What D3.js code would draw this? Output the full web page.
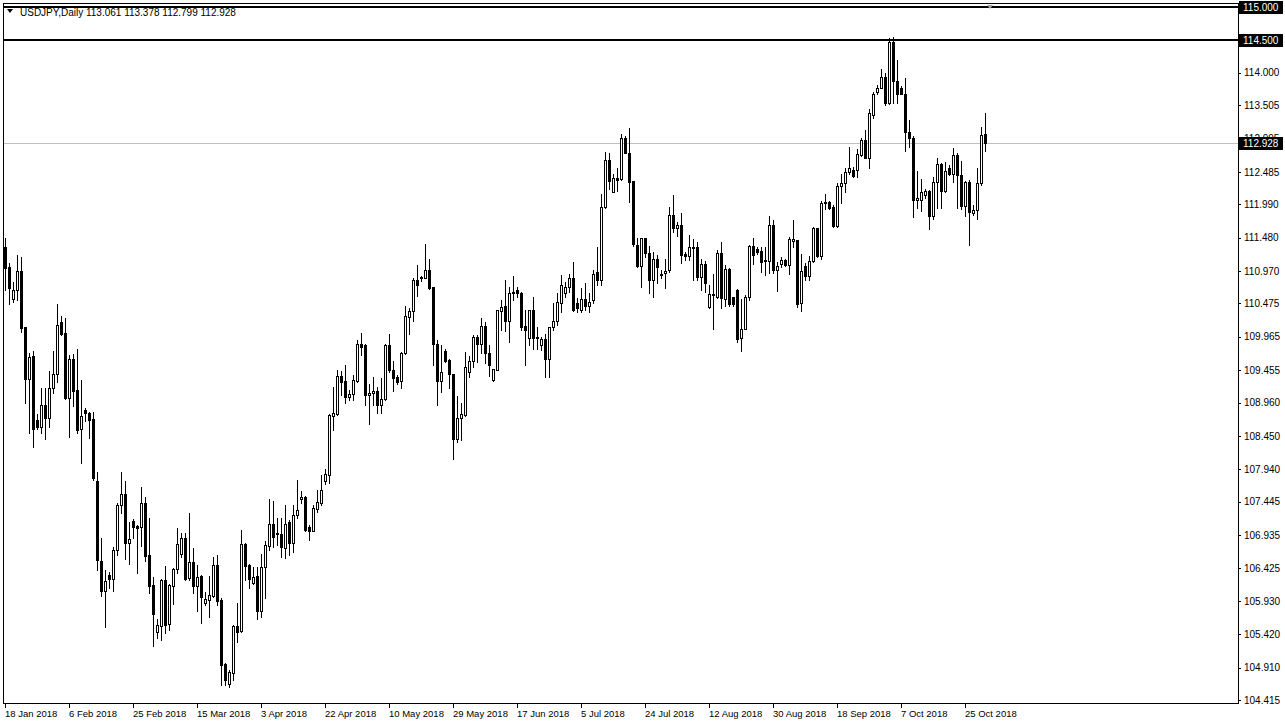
<!DOCTYPE html>
<html><head><meta charset="utf-8">
<script src="https://cdn.jsdelivr.net/npm/d3@7"></script>
<style>
html,body{margin:0;padding:0;background:#fff;overflow:hidden;}
svg{display:block;}
text{font-family:"Liberation Sans",Arial,sans-serif;}
</style></head><body>
<svg id="c" width="1285" height="726"></svg>
<script>
const symbolTitle = "USDJPY,Daily";
const startDate = "2018-01-18";
const opens = [111.34,111.03,110.55,110.68,110.97,110.11,109.32,109.67,108.69,108.59,108.93,108.73,109.18,109.39,110.19,110.02,109.03,109.62,109.15,108.56,108.85,108.80,108.71,107.76,106.54,106.08,106.32,106.26,106.71,107.39,107.57,106.82,107.15,107.08,107.06,107.42,106.63,106.17,105.45,105.55,106.25,105.57,106.16,106.41,106.64,106.89,106.28,106.52,106.15,106.31,105.89,105.95,106.01,106.48,105.94,104.97,104.66,104.82,105.55,105.47,106.80,106.48,106.20,106.31,105.78,106.44,106.77,107.10,106.95,106.95,106.74,107.14,106.82,107.24,107.49,107.51,107.06,107.00,107.34,107.43,107.76,107.86,108.76,108.79,109.37,109.29,109.05,109.09,109.29,109.86,109.84,109.07,109.10,109.14,108.93,109.02,109.84,109.46,109.35,109.29,109.71,110.27,110.36,110.83,110.87,110.87,110.99,110.72,109.86,109.29,109.75,109.61,109.39,108.40,108.72,108.77,109.43,109.60,109.96,109.86,110.13,109.71,109.30,109.46,110.36,110.43,110.21,110.65,110.68,110.64,110.13,109.94,110.37,109.96,109.84,109.93,109.62,110.11,110.20,110.48,110.63,110.72,110.86,110.48,110.37,110.55,110.43,110.53,110.96,110.83,111.95,112.66,112.18,112.39,112.37,113.00,112.78,112.34,111.37,111.04,111.47,111.25,110.84,111.15,110.93,110.94,110.99,111.82,111.62,111.68,111.23,111.20,111.34,111.34,110.88,111.08,110.42,110.62,110.58,111.24,110.55,111.00,110.57,110.68,109.94,110.09,110.57,111.35,111.30,111.28,111.12,111.12,111.67,110.99,111.08,111.14,111.06,111.43,111.44,110.48,111.05,110.90,111.12,111.62,111.20,112.01,112.03,111.95,111.66,112.27,112.31,112.48,112.51,112.51,112.75,112.97,112.69,113.36,113.70,113.77,113.93,113.54,114.47,113.87,113.77,113.68,113.10,113.00,112.06,112.06,112.13,112.19,111.81,112.33,112.60,112.19,112.55,112.45,112.74,112.44,111.96,112.33,111.85,111.90,112.31,113.061];
const highs = [111.48,111.09,110.80,111.21,111.19,110.12,109.72,109.75,108.78,109.19,109.19,109.44,109.75,110.46,110.29,110.25,109.69,109.70,109.78,109.30,108.88,108.81,108.82,107.90,106.89,106.40,106.37,106.75,107.42,107.90,107.76,107.14,107.18,107.09,107.67,107.52,107.20,106.30,105.66,106.27,106.46,106.19,106.43,107.04,106.97,106.97,107.28,106.73,106.48,106.33,106.06,106.31,106.60,106.63,105.97,104.98,104.87,105.56,105.90,107.01,106.81,106.50,106.44,106.44,106.65,106.84,107.48,107.45,107.19,107.19,107.39,107.16,107.39,107.78,107.61,107.53,107.09,107.39,107.62,107.86,107.95,108.78,109.20,109.46,109.44,109.53,109.15,109.38,109.92,110.02,109.85,109.25,109.35,109.20,109.33,109.85,110.00,109.59,109.38,109.74,110.44,110.40,110.86,111.06,110.90,111.38,111.16,110.73,109.92,109.84,109.78,109.62,109.40,109.06,108.95,109.74,109.67,109.99,109.99,110.25,110.19,109.84,109.48,110.38,110.53,110.83,110.73,110.89,110.72,110.65,110.37,110.38,110.58,110.12,109.96,110.00,110.12,110.48,110.63,110.91,110.80,110.93,111.11,110.56,110.71,110.79,110.63,110.99,111.34,112.15,112.79,112.78,112.46,112.54,113.06,113.03,113.15,112.35,111.48,111.48,111.48,111.35,111.26,111.22,110.99,111.16,111.95,112.13,111.72,111.85,111.26,111.52,111.46,111.41,111.16,111.12,110.76,110.92,111.29,111.41,111.06,111.01,110.58,110.69,110.54,110.60,111.36,111.47,111.34,111.34,111.33,111.81,111.75,111.11,111.18,111.16,111.49,111.75,111.45,111.23,111.10,111.20,111.65,111.63,112.04,112.15,112.04,111.98,112.32,112.46,112.55,112.87,112.56,112.83,113.00,113.12,113.45,113.70,113.82,114.06,113.99,114.53,114.55,114.19,113.80,113.92,113.28,113.03,112.50,112.38,112.22,112.21,112.41,112.70,112.62,112.64,112.59,112.85,112.78,112.65,112.34,112.36,111.98,112.54,113.17,113.378];
const lows = [110.68,110.47,110.50,110.53,110.04,108.96,108.49,108.28,108.56,108.49,108.40,108.58,109.10,109.27,109.99,109.01,108.44,108.90,108.49,108.03,108.68,108.42,107.78,106.40,106.00,105.53,106.13,106.08,106.63,107.28,106.57,106.49,106.89,106.36,106.77,106.54,106.05,105.24,105.37,105.33,105.44,105.49,105.88,106.35,106.60,106.25,106.25,106.05,105.78,105.59,105.87,105.68,105.99,105.87,104.64,104.64,104.62,104.72,105.30,105.46,106.25,106.12,106.19,105.65,105.69,105.98,106.71,106.76,106.78,106.60,106.59,106.63,106.68,107.19,107.42,107.00,106.86,106.99,107.29,107.39,107.71,107.73,108.54,108.77,109.07,108.96,109.00,109.00,109.28,109.69,108.92,108.64,108.92,108.80,108.80,109.00,109.43,109.14,109.24,109.19,109.70,110.01,110.21,110.59,110.82,110.86,110.69,109.54,108.92,109.12,109.58,109.19,108.10,108.36,108.39,108.76,109.35,109.51,109.58,109.71,109.56,109.37,109.29,109.45,110.07,110.06,109.89,110.53,110.58,110.07,109.53,109.84,109.78,109.78,109.77,109.35,109.35,110.07,110.14,110.35,110.58,110.65,110.36,110.34,110.34,110.37,110.34,110.48,110.76,110.76,111.93,112.23,112.17,112.20,112.36,112.77,112.03,111.35,111.03,110.73,111.19,110.64,110.58,110.78,110.87,110.71,110.96,111.56,111.50,111.09,111.14,111.14,110.83,110.83,110.68,110.65,110.41,110.08,110.56,110.41,110.44,110.44,110.43,109.89,109.75,110.08,110.53,111.08,111.23,110.95,110.91,110.94,110.94,110.67,111.03,111.04,110.92,111.34,110.42,110.36,110.83,110.83,111.11,111.18,111.16,111.91,111.92,111.65,111.65,112.01,112.18,112.46,112.40,112.41,112.73,112.69,112.54,113.31,113.68,113.76,113.51,113.52,113.53,113.53,113.67,112.80,112.87,111.80,111.94,111.88,112.08,111.61,111.77,111.93,111.93,112.18,112.44,112.33,111.93,111.91,111.81,111.37,111.82,111.76,112.28,112.799];
const closes = [111.02,110.71,110.68,110.97,110.10,109.32,109.65,108.56,108.59,108.93,108.73,109.18,109.39,110.14,110.01,109.03,109.62,109.14,108.54,108.76,108.80,108.69,107.81,106.55,106.08,106.23,106.26,106.71,107.39,107.57,106.82,106.87,107.06,107.05,107.42,106.62,106.16,105.73,105.56,106.25,105.56,106.17,106.42,106.80,106.89,106.27,106.52,106.15,106.30,105.99,105.96,106.02,106.48,105.93,104.95,104.72,104.84,105.55,105.46,106.80,106.46,106.26,106.30,105.78,106.44,106.78,107.10,106.91,106.97,106.75,107.11,106.82,107.24,107.32,107.51,107.02,107.00,107.35,107.44,107.62,107.87,108.77,108.80,109.37,109.28,109.04,109.09,109.30,109.86,109.81,109.07,109.10,109.14,108.93,109.02,109.84,109.45,109.34,109.28,109.72,110.28,110.36,110.84,110.76,110.88,110.99,110.71,109.86,109.29,109.42,109.59,109.39,108.40,108.73,108.79,109.50,109.60,109.96,109.86,110.13,109.71,109.53,109.47,110.37,110.42,110.21,110.63,110.63,110.63,110.11,110.07,110.37,109.94,109.94,109.93,109.62,110.11,110.21,110.49,110.76,110.72,110.86,110.38,110.40,110.55,110.43,110.50,110.93,110.83,111.95,112.66,112.35,112.39,112.36,113.00,112.78,112.33,111.38,111.04,111.47,111.25,110.84,111.15,111.03,110.91,110.97,111.82,111.62,111.68,111.22,111.20,111.33,111.32,110.88,111.08,110.79,110.62,110.60,111.24,110.56,111.00,110.46,110.46,109.93,110.09,110.57,111.35,111.21,111.26,111.11,111.14,111.67,110.99,111.04,111.14,111.06,111.46,111.46,110.46,110.97,110.90,111.12,111.63,111.20,112.01,112.03,111.93,111.66,112.27,112.31,112.48,112.54,112.42,112.76,112.97,112.70,113.38,113.67,113.77,113.93,113.54,114.47,113.87,113.68,113.68,113.10,113.00,112.06,112.08,112.17,112.19,111.81,112.33,112.60,112.19,112.50,112.45,112.74,112.44,111.96,112.33,111.87,111.90,112.31,113.05,112.928];
const yTickValues = [114.000,113.505,112.995,112.485,111.990,111.480,110.970,110.475,109.965,109.455,108.960,108.450,107.940,107.445,106.935,106.425,105.930,105.420,104.910,104.415];
const xTickLabels = ["18 Jan 2018","6 Feb 2018","25 Feb 2018","15 Mar 2018","3 Apr 2018","22 Apr 2018","10 May 2018","29 May 2018","17 Jun 2018","5 Jul 2018","24 Jul 2018","12 Aug 2018","30 Aug 2018","18 Sep 2018","7 Oct 2018","25 Oct 2018"];
const levelLines = [115.000, 114.500];
const bidPrice = 112.928;

// trading calendar (Sunday-Friday sessions)
const n = closes.length;
const dates = [];
{ let d = new Date(startDate + "T00:00:00");
  while (dates.length < n) { if (d.getDay() !== 6) dates.push(new Date(d)); d.setDate(d.getDate() + 1); } }
const fmtDate = d3.timeFormat("%-d %b %Y");
const bars = d3.range(n).map(i => ({i, o: opens[i], h: highs[i], l: lows[i], c: closes[i], d: dates[i]}));

const svg = d3.select("#c");
const x = d3.scaleLinear().domain([0, n - 1]).range([5, 5 + 4 * (n - 1)]);
const y = d3.scaleLinear().domain([104.415, 114.5]).range([700, 40]);

svg.append("defs").append("clipPath").attr("id", "clip")
  .append("rect").attr("x", 4).attr("y", 4).attr("width", 1234).attr("height", 699);

// frame
svg.append("rect").attr("x", 3.5).attr("y", 3.5).attr("width", 1235).attr("height", 700)
  .attr("fill", "none").attr("stroke", "#000").attr("stroke-width", 1);

const g = svg.append("g").attr("clip-path", "url(#clip)");

// bid line
const bidY = Math.round(y(bidPrice)) + 0.5;
g.append("line").attr("x1", 4).attr("x2", 1238).attr("y1", bidY).attr("y2", bidY)
  .attr("stroke", "#c0c0c0").attr("stroke-width", 1);

// level lines
g.selectAll(".lvl").data(levelLines).join("rect").attr("class", "lvl")
  .attr("x", 4).attr("width", 1234)
  .attr("y", d => Math.round(y(d)) - 1).attr("height", 2).attr("fill", "#000");

// candles
const cg = g.append("g");
const cxOf = d => Math.round(x(d.i));
const topY = d => Math.round(y(Math.max(d.o, d.c)));
const botY = d => Math.round(y(Math.min(d.o, d.c)));
cg.selectAll(".wick").data(bars).join("rect").attr("class", "wick")
  .attr("x", cxOf).attr("width", 1)
  .attr("y", d => Math.round(y(d.h)))
  .attr("height", d => Math.round(y(d.l)) - Math.round(y(d.h)) + 1)
  .attr("fill", "#000");
cg.selectAll(".body").data(bars).join("rect").attr("class", "body")
  .attr("x", d => cxOf(d) - 1).attr("width", 3)
  .attr("y", topY).attr("height", d => Math.max(1, botY(d) - topY(d) + 1))
  .attr("fill", "#000");
cg.selectAll(".hollow").data(bars.filter(d => d.c > d.o && botY(d) - topY(d) >= 2)).join("rect").attr("class", "hollow")
  .attr("x", cxOf).attr("width", 1)
  .attr("y", d => topY(d) + 1).attr("height", d => botY(d) - topY(d) - 1)
  .attr("fill", "#fff");

// chart shift marker
svg.append("path").attr("d", "M987,5 L993,5 L990,9 Z").attr("fill", "#a0a0a0");

// right axis
const ya = svg.append("g").attr("transform", "translate(1238,0)")
  .call(d3.axisRight(y).tickValues(yTickValues).tickSize(3).tickPadding(3).tickFormat(d => d.toFixed(3)));
ya.select(".domain").remove();
ya.selectAll("line").attr("stroke", "#000").attr("shape-rendering", "crispEdges");
ya.selectAll("text").attr("font-family", "Liberation Sans, Arial, sans-serif").attr("font-size", 10).attr("fill", "#000");

// price boxes
const boxes = [...levelLines, bidPrice];
const bx = svg.append("g");
bx.selectAll("rect").data(boxes).join("rect")
  .attr("x", 1239).attr("width", 44).attr("y", d => Math.round(y(d)) - 6).attr("height", 13).attr("fill", "#000");
bx.selectAll("text").data(boxes).join("text")
  .attr("x", 1243).attr("y", d => Math.round(y(d)) + 4)
  .attr("font-size", 10).attr("fill", "#fff").text(d => d.toFixed(3));

// bottom axis
const xt = xTickLabels.map(lbl => ({lbl, i: dates.findIndex(d => fmtDate(d) === lbl)})).filter(t => t.i >= 0);
const xa = svg.append("g");
xa.selectAll("rect").data(xt).join("rect")
  .attr("x", t => Math.round(x(t.i))).attr("y", 704).attr("width", 1).attr("height", 4).attr("fill", "#000");
xa.selectAll("text").data(xt).join("text")
  .attr("x", t => Math.round(x(t.i))).attr("y", 717)
  .attr("font-size", 9.5).attr("fill", "#000").text(t => t.lbl);

// title
svg.append("path").attr("d", "M7,9 L13,9 L10,13 Z").attr("fill", "#000");
svg.append("text").attr("x", 20).attr("y", 16).attr("font-size", 10).attr("fill", "#000")
  .text(`${symbolTitle} ${opens[n-1].toFixed(3)} ${highs[n-1].toFixed(3)} ${lows[n-1].toFixed(3)} ${closes[n-1].toFixed(3)}`);
</script>
</body></html>
